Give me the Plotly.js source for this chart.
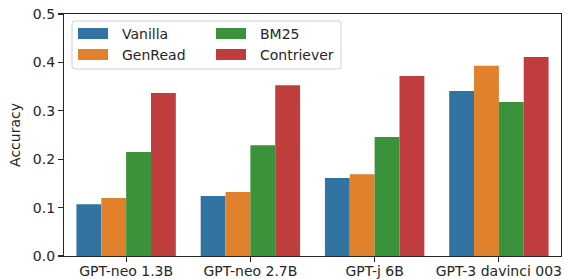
<!DOCTYPE html>
<html>
<head>
<meta charset="utf-8">
<script src="https://cdn.plot.ly/plotly-3.0.1.min.js"></script>
<style>html,body{margin:0;padding:0;background:#fff;}#chart{width:567px;height:279px;}</style>
</head>
<body>
<div id="chart"></div>
<script>
const models = ["GPT-neo 1.3B", "GPT-neo 2.7B", "GPT-j 6B", "GPT-3 davinci 003"];
const vanilla = [0.107, 0.124, 0.161, 0.341];
const genread = [0.120, 0.132, 0.169, 0.393];
const bm25 = [0.215, 0.229, 0.246, 0.318];
const contriever = [0.337, 0.353, 0.372, 0.411];
const seriesNames = ["Vanilla", "GenRead", "BM25", "Contriever"];
const seriesColors = ["#3274a1", "#e1812c", "#3a923a", "#c03d3e"];
const seriesValues = [vanilla, genread, bm25, contriever];
const yTicks = [0, 0.1, 0.2, 0.3, 0.4, 0.5];

const W = 567, H = 279;
const M = {l: 64, r: 6, t: 14, b: 23};
const PW = W - M.l - M.r, PH = H - M.t - M.b;
const fx = px => (px - M.l) / PW;
const fy = py => (H - M.b - py) / PH;
const textColor = "#262626";
const font = {family: "DejaVu Sans", size: 14, color: textColor};

const traces = seriesNames.map((n, i) => ({
  type: "bar", name: n, x: models, y: seriesValues[i],
  marker: {color: seriesColors[i], line: {width: 0}},
  showlegend: false, hoverinfo: "skip"
}));

// legend (matplotlib-style) drawn with shapes + annotations
const shapes = [];
const annotations = [];
const bx0 = 72, bx1 = 341, by0 = 21, by1 = 69, rr = 3;
const rx = rr / PW, ry = rr / PH;
const X0 = fx(bx0), X1 = fx(bx1), Y0 = fy(by1), Y1 = fy(by0);
shapes.push({
  type: "path", xref: "paper", yref: "paper",
  path: `M ${X0+rx},${Y0} L ${X1-rx},${Y0} Q ${X1},${Y0} ${X1},${Y0+ry} L ${X1},${Y1-ry} Q ${X1},${Y1} ${X1-rx},${Y1} L ${X0+rx},${Y1} Q ${X0},${Y1} ${X0},${Y1-ry} L ${X0},${Y0+ry} Q ${X0},${Y0} ${X0+rx},${Y0} Z`,
  fillcolor: "rgba(255,255,255,0.8)", line: {color: "#d0d0d0", width: 1}
});
const colX = [78, 216];
const rowY = [33.5, 54.5];
seriesNames.forEach((n, i) => {
  const c = Math.floor(i / 2), r = i % 2;
  shapes.push({
    type: "rect", xref: "paper", yref: "paper",
    x0: fx(colX[c]), x1: fx(colX[c] + 30),
    y0: fy(rowY[r] + 5.5), y1: fy(rowY[r] - 5.5),
    fillcolor: seriesColors[i], line: {width: 0}
  });
  annotations.push({
    xref: "paper", yref: "paper", x: fx(colX[c] + 42), y: fy(rowY[r]),
    xanchor: "left", yanchor: "middle", showarrow: false,
    text: n, font: font
  });
});

const layout = {
  width: W, height: H,
  margin: M,
  paper_bgcolor: "#fff", plot_bgcolor: "#fff",
  barmode: "group", bargap: 0.2, bargroupgap: 0,
  showlegend: false,
  font: font,
  xaxis: {
    type: "category", range: [-0.5, 3.5],
    showline: true, linecolor: textColor, linewidth: 1.1, mirror: true,
    ticks: "outside", ticklen: 5, tickwidth: 1.1, tickcolor: textColor,
    ticklabelstandoff: -3,
    showgrid: false, zeroline: false, tickfont: font
  },
  yaxis: {
    range: [0, 0.5], tickvals: yTicks, ticktext: yTicks.map(v => v.toFixed(1)),
    showline: true, linecolor: textColor, linewidth: 1.1, mirror: true,
    ticks: "outside", ticklen: 5, tickwidth: 1.1, tickcolor: textColor,
    showgrid: false, zeroline: false, tickfont: font,
    title: {text: "Accuracy", font: font, standoff: 8}
  },
  shapes: shapes,
  annotations: annotations
};

Plotly.newPlot("chart", traces, layout, {staticPlot: true, displayModeBar: false});
</script>
</body>
</html>
